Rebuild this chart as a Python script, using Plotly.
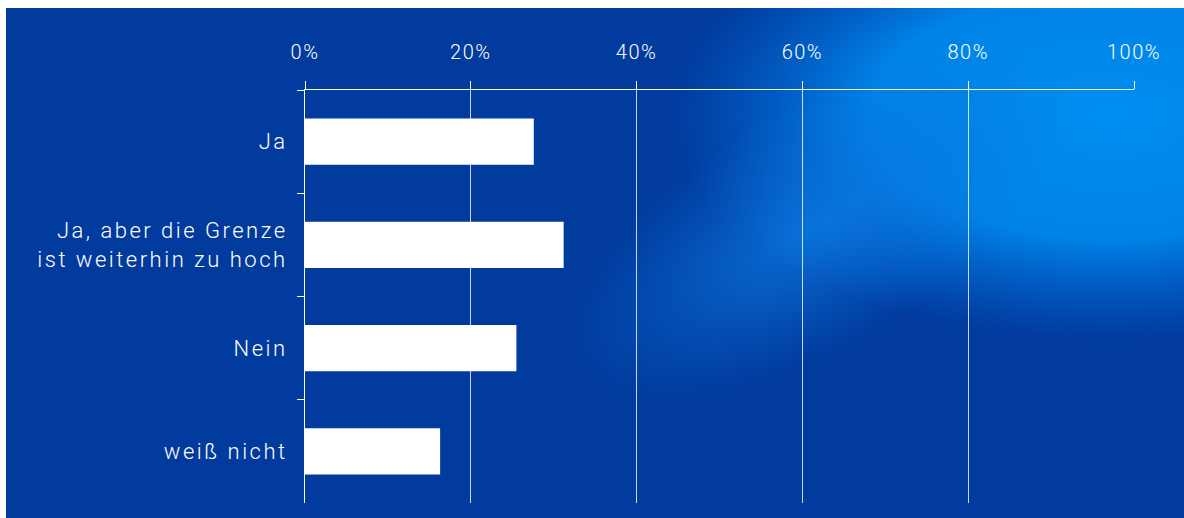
import base64
import plotly.graph_objects as go

# ---- data ----
categories = ["Ja", "Ja, aber die Grenze<br>ist weiterhin zu hoch", "Nein", "weiß nicht"]
values = [27.6, 31.2, 25.5, 16.3]
x_ticks = [0, 20, 40, 60, 80, 100]
x_tick_labels = ["0%", "20%", "40%", "60%", "80%", "100%"]

W, H = 1184, 518
L, R, T, B = 305, 1134, 90, 503  # plot area in px

# ---- background (gradient as inline SVG image) ----
svg = f"""<svg xmlns='http://www.w3.org/2000/svg' width='{W}' height='{H}' viewBox='0 0 {W} {H}'>
<defs>
<radialGradient id='g1'>
<stop offset='0' stop-color='#008ef0' stop-opacity='1'/>
<stop offset='0.55' stop-color='#0086ea' stop-opacity='0.95'/>
<stop offset='1' stop-color='#0070e0' stop-opacity='0'/>
</radialGradient>
<radialGradient id='g2'>
<stop offset='0' stop-color='#0a7ae2' stop-opacity='0.85'/>
<stop offset='1' stop-color='#0a70dc' stop-opacity='0'/>
</radialGradient>
</defs>
<rect x='0' y='0' width='{W}' height='{H}' fill='#ffffff'/>
<svg x='6' y='8' width='{W}' height='{H}'>
<rect x='0' y='0' width='{W}' height='{H}' fill='#013b9d'/>
<ellipse cx='{1110-6}' cy='{115-8}' rx='440' ry='225' fill='url(#g1)'/>
<ellipse cx='{820-6}' cy='{225-8}' rx='280' ry='120' fill='url(#g2)' transform='rotate(-30 {820-6} {225-8})'/>
</svg>
</svg>"""
bg_uri = "data:image/svg+xml;base64," + base64.b64encode(svg.encode()).decode()

font_family = "Roboto"

fig = go.Figure()
fig.add_trace(go.Bar(
    x=values,
    y=categories,
    orientation="h",
    marker=dict(color="#ffffff", line=dict(width=0)),
    hoverinfo="skip",
))

fig.update_layout(
    width=W,
    height=H,
    autosize=False,
    margin=dict(l=0, r=0, t=0, b=0, pad=0, autoexpand=False),
    paper_bgcolor="#ffffff",
    plot_bgcolor="rgba(0,0,0,0)",
    showlegend=False,
    bargap=0.55,
    font=dict(family=font_family, color="#ffffff", size=22, weight=300),
    images=[dict(
        source=bg_uri,
        xref="paper", yref="paper",
        x=0, y=1, sizex=1, sizey=1,
        xanchor="left", yanchor="top",
        sizing="stretch", layer="below",
    )],
    xaxis=dict(
        domain=[L / W, R / W],
        range=[0, 100],
        side="top",
        automargin=False,
        tickvals=x_ticks,
        ticktext=x_tick_labels,
        showgrid=True,
        gridcolor="rgba(255,255,255,0.8)",
        gridwidth=1,
        showline=True,
        linecolor="#ffffff",
        linewidth=1,
        ticks="outside",
        ticklen=8,
        tickcolor="#ffffff",
        tickwidth=1,
        ticklabelstandoff=14,
        tickfont=dict(family=font_family, size=20, color="#ffffff", weight=300),
        zeroline=False,
        fixedrange=True,
    ),
    yaxis=dict(
        domain=[1 - B / H, 1 - T / H],
        autorange="reversed",
        type="category",
        automargin=False,
        showgrid=False,
        showline=True,
        linecolor="#ffffff",
        linewidth=1,
        ticks="outside",
        tickson="boundaries",
        ticklen=7,
        tickcolor="#ffffff",
        tickwidth=1,
        ticklabelstandoff=12,
        tickfont=dict(family=font_family, size=22, color="#ffffff", weight=300),
        zeroline=False,
        fixedrange=True,
    ),
)

post = """
document.body.style.margin = '0';
document.body.style.overflow = 'hidden';
var gd = document.getElementById('{plot_id}');
gd.querySelectorAll('.xtick text').forEach(function(t){ t.style.letterSpacing = '1.5px'; });
gd.querySelectorAll('.ytick text').forEach(function(t){ t.style.letterSpacing = '2.5px'; });
"""

fig.write_html("out.html", post_script=post, config={"displayModeBar": False})
